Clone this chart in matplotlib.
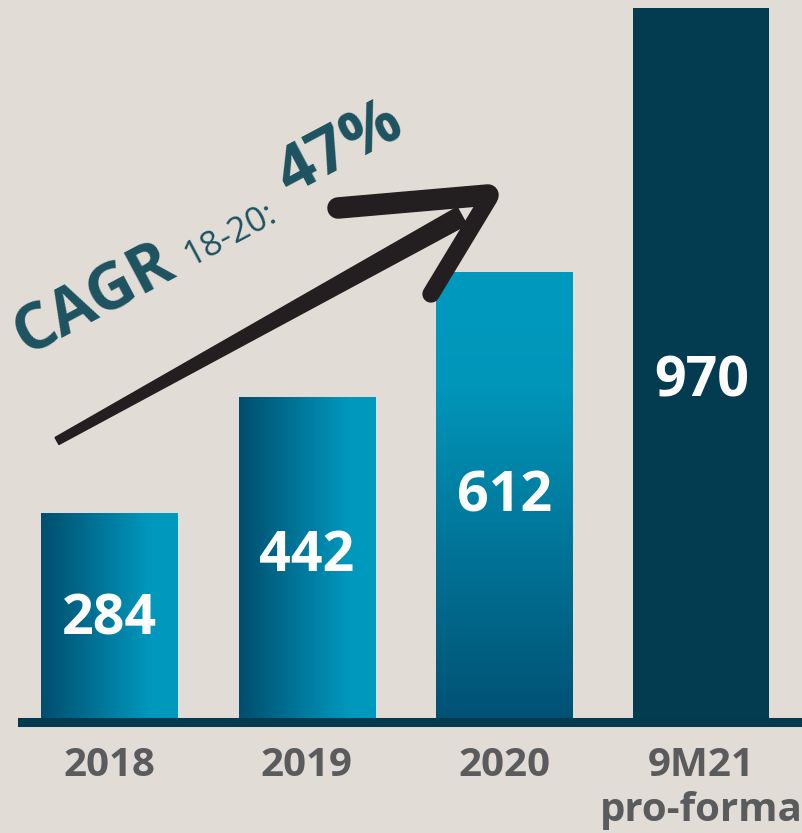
import numpy as np
import matplotlib.pyplot as plt
from matplotlib.colors import LinearSegmentedColormap
from matplotlib.patches import Polygon
from matplotlib.lines import Line2D

# data
categories = ["2018", "2019", "2020", "9M21\npro-forma"]
values = [284, 442, 612, 970]
fills = ["horizontal", "horizontal", "vertical", "solid"]
cagr_period = "18-20:"
cagr_value = "47%"

plt.rcParams['font.family'] = ['Open Sans', 'DejaVu Sans']

W, H = 803, 833
BG = "#E1DDD6"
DARK = "#033B51"
TEAL_TXT = "#1D5260"
GREY = "#5A5B5D"
ARROW = "#231F20"

fig = plt.figure(figsize=(W / 100, H / 100), dpi=100, facecolor=BG)
ax = fig.add_axes([0, 111 / H, 1, 722 / H])
ax.set_facecolor(BG)

horiz_cmap = LinearSegmentedColormap.from_list(
    "h", [(0, "#004E6E"), (0.8, "#0098BD"), (1, "#009ABF")])
vert_cmap = LinearSegmentedColormap.from_list(
    "v", [(0, "#005173"), (0.75, "#0096BA"), (1, "#009ABF")])

x = np.arange(len(values))
bars = ax.bar(x, values, width=0.69, color="none", edgecolor="none", zorder=2)

for bar, kind in zip(bars, fills):
    x0, y0 = bar.get_x(), bar.get_y()
    x1, y1 = x0 + bar.get_width(), y0 + bar.get_height()
    if kind == "solid":
        bar.set_facecolor(DARK)
        continue
    if kind == "horizontal":
        grad = np.linspace(0, 1, 256).reshape(1, -1)
        cmap = horiz_cmap
    else:
        grad = np.linspace(0, 1, 256).reshape(-1, 1)
        cmap = vert_cmap
    im = ax.imshow(grad, cmap=cmap, extent=[x0, x1, y0, y1], origin="lower",
                   aspect="auto", zorder=2)
    im.set_clip_path(bar)

ax.set_xlim(-0.555, 3.515)
ax.set_ylim(0, 981)

# baseline
ax.axhline(0, xmin=22 / W, xmax=798 / W, color="#033A50", lw=6.5,
           zorder=4, clip_on=False)

# value labels
label_pos = [0.49, 0.51, 0.5, 0.476]
for xi, v, p in zip(x, values, label_pos):
    ax.text(xi, v * p, str(v), ha="center", va="center", color="white",
            fontsize=40, fontweight="bold", zorder=5)

ax.set_xticks(x, categories, fontsize=29, fontweight="bold", color=GREY,
              linespacing=1.2)
ax.tick_params(axis="x", length=0, pad=17)
ax.set_yticks([])
for s in ax.spines.values():
    s.set_visible(False)


# hand-drawn style arrow (figure pixel coordinates)
def px(pts):
    return [(a / W, 1 - b / H) for a, b in pts]


def tapered(p0, p1, w0, w1):
    p0, p1 = np.array(p0, float), np.array(p1, float)
    d = p1 - p0
    n = np.array([-d[1], d[0]]) / np.hypot(*d)
    return [tuple(p0 + n * w0 / 2), tuple(p1 + n * w1 / 2),
            tuple(p1 - n * w1 / 2), tuple(p0 - n * w0 / 2)]


shaft = Polygon(px(tapered((57, 441), (462, 216), 8, 20)),
                closed=True, transform=fig.transFigure, color=ARROW, zorder=6)
fig.add_artist(shaft)
for (a, b), lw in [(((338, 208), (488, 195)), 15.5),
                   (((489, 198), (431, 294)), 12.5)]:
    pts = px([a, b])
    fig.add_artist(Line2D([pts[0][0], pts[1][0]], [pts[0][1], pts[1][1]],
                          transform=fig.transFigure, color=ARROW, lw=lw,
                          solid_capstyle="round", zorder=6))

# CAGR annotation
common = dict(rotation=28, rotation_mode="anchor", ha="left", va="baseline",
              color=TEAL_TXT)
fig.text(26 / W, 1 - 356 / H, "CAGR", fontsize=46, fontweight="bold", **common)
fig.text(191 / W, 1 - 266 / H, cagr_period, fontsize=25, **common)
fig.text(290 / W, 1 - 196 / H, cagr_value, fontsize=47, fontweight="bold",
         **common)

fig.savefig("out.png", dpi=100, facecolor=BG)
